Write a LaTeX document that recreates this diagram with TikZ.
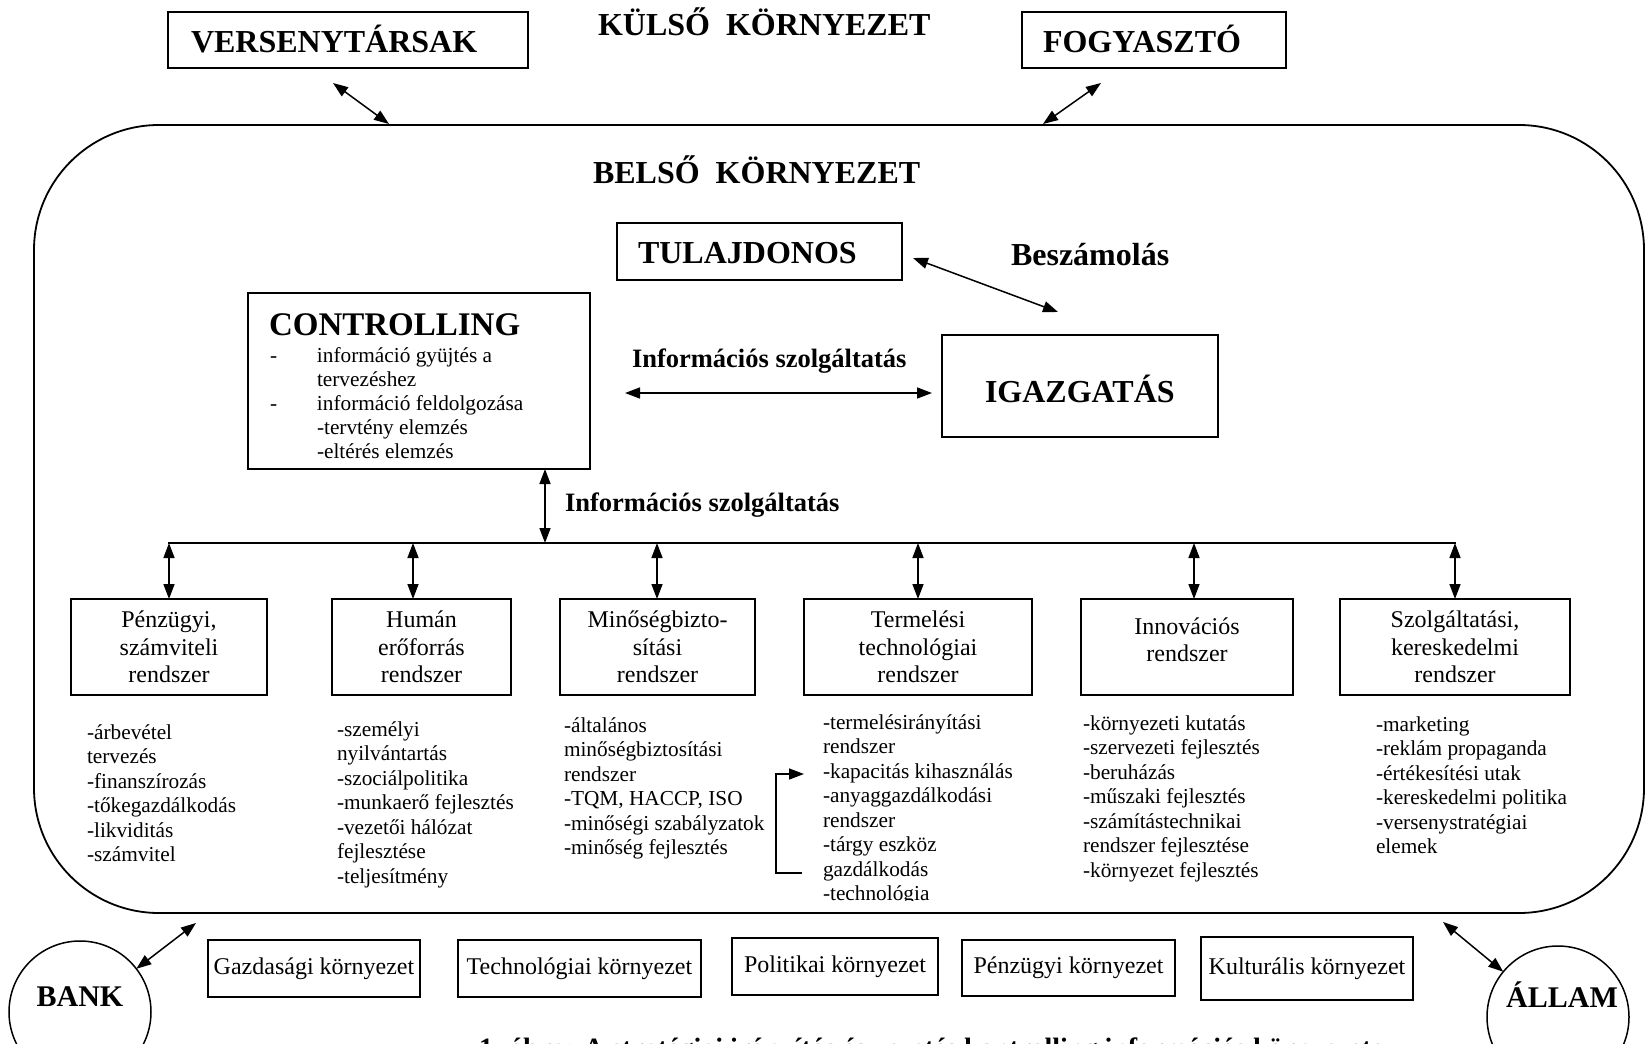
\documentclass[tikz,border=0pt]{standalone}
\usepackage{fontspec}
\setmainfont{Liberation Serif}
\usetikzlibrary{arrows.meta}
\newcommand\fs[2]{\fontsize{#1}{#2}\selectfont}
\begin{document}
\begin{tikzpicture}[x=1pt,y=-1pt,
  every node/.style={inner sep=0pt, outer sep=0pt},
  frame/.style={draw, line width=1.8pt},
  heading/.style={anchor=base west, font=\bfseries\fs{32}{37}},
  info/.style={anchor=base west, font=\bfseries\fs{26.5}{30}},
  sysbox/.style={draw, line width=1.8pt, minimum height=96pt, align=center, font=\fs{24}{27.5}},
  envbox/.style={draw, line width=1.5pt, font=\fs{24}{28}},
  % multi-line lists: the base anchor sits on the last line
  items/.style={anchor=base west, align=left, font=\fs{21.3}{24.5}},
  party/.style={draw, circle, line width=1.5pt, minimum size=142pt},
  partyname/.style={anchor=base, font=\bfseries\fs{30}{34}},
  twoway/.style={{Triangle[length=15pt,width=11pt]}-{Triangle[length=15pt,width=11pt]}, line width=1.5pt},
]
\useasboundingbox (0,0) rectangle (1652,1044);

% outer partners
\node[frame, minimum width=360pt, minimum height=56pt] (vers) at (348,40) {};
\node[heading] (versname) at (191,52) {VERSENYTÁRSAK};
\node[heading] (kulso) at (598,35) {KÜLSŐ~~KÖRNYEZET};
\node[frame, minimum width=264pt, minimum height=56pt] (fogy) at (1154,40) {};
\node[heading] (fogyname) at (1043,52) {FOGYASZTÓ};

% inner environment
\node[draw, line width=1.8pt, rounded corners=125pt, minimum width=1610pt, minimum height=788pt] (belso) at (839,519) {};
\node[heading] (belsoname) at (593,183) {BELSŐ~~KÖRNYEZET};

\coordinate (versA) at (333,83);  \coordinate (versB) at (389,124);
\coordinate (fogyA) at (1101,83); \coordinate (fogyB) at (1043,124);
\draw[twoway] (versA) -- (versB);
\draw[twoway] (fogyA) -- (fogyB);

% owner and management
\node[frame, minimum width=285pt, minimum height=57pt] (tul) at (759.5,251.5) {};
\node[heading] (tulname) at (638,263) {TULAJDONOS};
\node[heading] (besz) at (1011,265) {Beszámolás};
\node[frame, minimum width=276pt, minimum height=102pt] (igaz) at (1080,386) {};
\node[heading] (igazname) at (985,402) {IGAZGATÁS};
\coordinate (tulA) at (913,258); \coordinate (igazA) at (1058,312);
\draw[twoway] (tulA) -- (igazA);

% controlling
\node[frame, minimum width=342pt, minimum height=176pt] (ctrl) at (419,381) {};
\node[anchor=base west, font=\bfseries\fs{33}{37}] (ctrlname) at (269,335) {CONTROLLING};
\node[items, font=\fs{21.3}{24}] (ctrllist) at (270,458)
  {\makebox[47pt][l]{-}információ gyüjtés a\\
   \hspace*{47pt}tervezéshez\\
   \makebox[47pt][l]{-}információ feldolgozása\\
   \hspace*{47pt}-tervtény elemzés\\
   \hspace*{47pt}-eltérés elemzés};

\coordinate (infoL) at (625,393); \coordinate (infoR) at (932,393);
\draw[twoway] (infoL) -- (infoR);
\node[info] (info1) at (632,367) {Információs szolgáltatás};

% distribution bus
\coordinate (busL) at (168,543); \coordinate (busR) at (1456,543);
\coordinate (busC) at (545,543);
\draw[line width=2.4pt] (busL) -- (busR);
\draw[twoway] (ctrl.south -| busC) -- (busC);
\node[info] (info2) at (565,511) {Információs szolgáltatás};

% subsystems
\node[sysbox, minimum width=196pt] (b1) at (169,647) {Pénzügyi,\\számviteli\\rendszer};
\node[sysbox, minimum width=179pt] (b2) at (421.5,647) {Humán\\erőforrás\\rendszer};
\node[sysbox, minimum width=195pt] (b3) at (657.5,647) {Minőségbizto-\\sítási\\rendszer};
\node[sysbox, minimum width=228pt] (b4) at (918,647) {Termelési\\technológiai\\rendszer};
\node[sysbox, minimum width=212pt] (b5) at (1187,647) {};
\node[align=center, font=\fs{24}{27.5}] (b5name) at (1187,640) {Innovációs\\rendszer};
\node[sysbox, minimum width=230pt] (b6) at (1455,647) {Szolgáltatási,\\kereskedelmi\\rendszer};

\coordinate (t1) at (169,543);  \coordinate (t2) at (413,543);
\coordinate (t3) at (657,543);  \coordinate (t4) at (918,543);
\coordinate (t5) at (1194,543); \coordinate (t6) at (1455,543);
\draw[twoway] (t1) -- (t1 |- b1.north);
\draw[twoway] (t2) -- (t2 |- b2.north);
\draw[twoway] (t3) -- (t3 |- b3.north);
\draw[twoway] (t4) -- (t4 |- b4.north);
\draw[twoway] (t5) -- (t5 |- b5.north);
\draw[twoway] (t6) -- (t6 |- b6.north);

% task lists
\node[items] (l1) at (87,861.5) {-árbevétel\\tervezés\\-finanszírozás\\-tőkegazdálkodás\\-likviditás\\-számvitel};
\node[items] (l2) at (337,883) {-személyi\\nyilvántartás\\-szociálpolitika\\-munkaerő fejlesztés\\-vezetői hálózat\\fejlesztése\\-teljesítmény};
\node[items] (l3) at (564,854.5) {-általános\\minőségbiztosítási\\rendszer\\-TQM, HACCP, ISO\\-minőségi szabályzatok\\-minőség fejlesztés};
\begin{scope}
  \clip (0,0) rectangle (1652,900);
  \node[items] (l4) at (823,900.5) {-termelésirányítási\\rendszer\\-kapacitás kihasználás\\-anyaggazdálkodási\\rendszer\\-tárgy eszköz\\gazdálkodás\\-technológia};
\end{scope}
\node[items] (l5) at (1083,877) {-környezeti kutatás\\-szervezeti fejlesztés\\-beruházás\\-műszaki fejlesztés\\-számítástechnikai\\rendszer fejlesztése\\-környezet fejlesztés};
\node[items] (l6) at (1376,853.5) {-marketing\\-reklám propaganda\\-értékesítési utak\\-kereskedelmi politika\\-versenystratégiai\\elemek};

% feedback bracket in the production list
\coordinate (bk1) at (802,873); \coordinate (bk2) at (776,873);
\coordinate (bk3) at (776,774); \coordinate (bk4) at (804,774);
\draw[line width=1.5pt, -{Triangle[length=15pt,width=11pt]}] (bk1) -- (bk2) -- (bk3) -- (bk4);

% bank and state
\node[party] (bank) at (80,1012) {};
\node[partyname] (bankname) at (80,1006) {BANK};
\node[party] (allam) at (1558,1017) {};
\node[partyname] (allamname) at (1562,1007) {ÁLLAM};
\coordinate (bankB) at (196,923); \coordinate (allamB) at (1443,922);
\draw[twoway] (bank) -- (bankB);
\draw[twoway] (allam) -- (allamB);

% macro environment
\node[envbox, minimum width=212pt, minimum height=57pt] (gazd) at (314,968.5) {Gazdasági környezet};
\node[envbox, minimum width=243pt, minimum height=57pt] (tech) at (579.5,968.5) {Technológiai környezet};
\node[envbox, minimum width=206pt, minimum height=57pt] (pol) at (835,966.5) {Politikai környezet};
\node[envbox, minimum width=213pt, minimum height=56pt] (penz) at (1068.5,968) {Pénzügyi környezet};
\node[envbox, minimum width=212pt, minimum height=63pt] (kult) at (1307,968.5) {Kulturális környezet};

% caption (runs off the lower edge)
\node[anchor=base west, font=\bfseries\fs{28}{32}] (caption) at (479,1057) {1. ábra: A stratégiai irányítás és vezetés kontrolling információs környezete};
\end{tikzpicture}
\end{document}
